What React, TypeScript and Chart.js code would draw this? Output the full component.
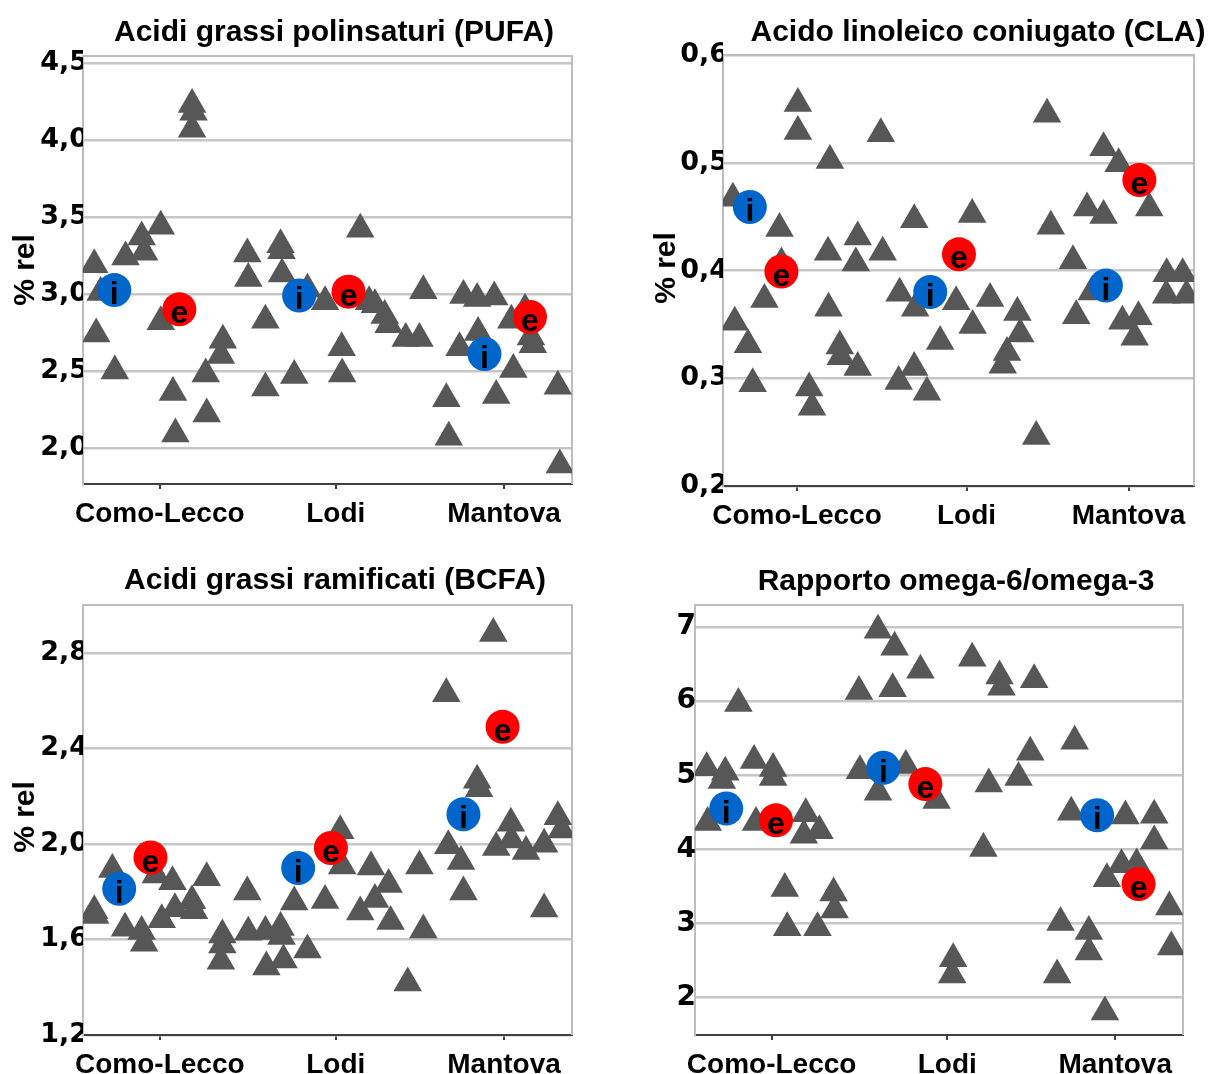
import React, { useEffect, useRef } from "react";
import { Chart, registerables } from "chart.js";

Chart.register(...registerables);

// ---------- data ----------
const CATEGORIES = ["Como-Lecco", "Lodi", "Mantova"];
const CATEGORY_POS = [15.7, 51.7, 86.1];

// PUFA
const PUFA_TRI: [number, number][] = [
  [2.3, 3.19], [2.7, 2.74], [3.6, 3.01], [6.5, 2.5], [8.7, 3.24], [12.0, 3.37], [12.5, 3.27],
  [15.9, 3.44], [15.9, 2.82], [18.4, 2.36], [18.9, 2.09], [22.3, 4.23], [22.6, 4.18], [22.3, 4.07],
  [25.1, 2.48], [25.3, 2.22], [28.6, 2.7], [28.2, 2.6], [33.6, 3.26], [33.8, 3.1], [37.3, 2.83],
  [37.3, 2.39], [40.4, 3.32], [40.6, 3.28], [40.7, 3.13], [43.2, 2.47], [45.9, 3.03], [49.5, 2.95],
  [52.9, 2.65], [53.0, 2.48], [56.7, 3.42], [58.5, 2.95], [59.7, 2.93], [61.7, 2.86], [62.5, 2.8],
  [66.0, 2.71], [68.8, 2.71], [69.6, 3.02], [74.3, 2.32], [74.8, 2.07], [77.0, 2.65], [77.8, 2.99],
  [80.6, 2.97], [80.8, 2.75], [84.1, 2.98], [84.5, 2.34], [87.6, 2.83], [88.0, 2.51], [90.4, 2.9],
  [91.6, 2.72], [92.0, 2.67], [97.1, 2.4], [97.5, 1.89],
];
const PUFA_I: [number, number][] = [[6.4, 3.025], [44.2, 2.99], [82.1, 2.61]];
const PUFA_E: [number, number][] = [[19.7, 2.9], [54.3, 3.015], [91.4, 2.85]];
const PUFA_TICKS = [2.0, 2.5, 3.0, 3.5, 4.0, 4.5];

// CLA
const CLA_TRI: [number, number][] = [
  [2.1, 0.467], [2.5, 0.352], [5.3, 0.331], [6.3, 0.295], [8.8, 0.373], [12.0, 0.439], [12.4, 0.407],
  [15.9, 0.555], [15.9, 0.529], [18.3, 0.291], [18.9, 0.273], [22.7, 0.502], [22.3, 0.417], [22.4, 0.365],
  [24.8, 0.33], [25.0, 0.32], [28.6, 0.431], [28.2, 0.407], [28.6, 0.31], [33.5, 0.527], [33.9, 0.417],
  [37.5, 0.379], [37.3, 0.297], [40.6, 0.447], [40.6, 0.31], [40.8, 0.365], [43.3, 0.287], [46.1, 0.334],
  [49.5, 0.371], [52.9, 0.452], [53.0, 0.349], [56.7, 0.374], [59.4, 0.312], [60.3, 0.324], [62.5, 0.361],
  [63.1, 0.341], [66.5, 0.246], [68.8, 0.545], [69.6, 0.441], [74.3, 0.409], [75.0, 0.358], [77.3, 0.458],
  [78.3, 0.38], [80.8, 0.514], [80.8, 0.451], [84.0, 0.499], [84.8, 0.353], [87.4, 0.338], [88.2, 0.357],
  [90.5, 0.458], [94.2, 0.397], [94.1, 0.377], [97.6, 0.397], [98.4, 0.377],
];
const CLA_I: [number, number][] = [[5.7, 0.459], [44.0, 0.38], [81.3, 0.386]];
const CLA_E: [number, number][] = [[12.4, 0.399], [50.1, 0.415], [88.4, 0.484]];
const CLA_TICKS = [0.2, 0.3, 0.4, 0.5, 0.6];

// BCFA
const BCFA_TRI: [number, number][] = [
  [2.3, 1.72], [2.5, 1.7], [6.0, 1.893], [8.6, 1.647], [12.0, 1.633], [12.5, 1.584], [14.9, 1.87],
  [16.1, 1.682], [18.3, 1.841], [18.8, 1.729], [22.3, 1.762], [22.7, 1.72], [25.3, 1.858], [28.5, 1.619],
  [28.5, 1.577], [28.2, 1.509], [33.6, 1.799], [33.8, 1.63], [37.3, 1.633], [37.5, 1.485], [40.4, 1.65],
  [40.6, 1.612], [41.0, 1.514], [43.2, 1.757], [45.9, 1.556], [49.5, 1.763], [52.6, 2.055], [53.0, 1.907],
  [56.7, 1.715], [58.9, 1.903], [59.7, 1.767], [62.5, 1.83], [62.9, 1.675], [66.4, 1.418], [68.8, 1.907],
  [69.6, 1.64], [74.3, 2.629], [74.7, 1.992], [77.3, 1.926], [77.8, 1.799], [80.6, 2.266], [81.0, 2.231],
  [83.9, 2.881], [84.5, 1.985], [87.5, 2.086], [87.6, 2.016], [90.6, 1.968], [94.3, 1.999], [94.3, 1.727],
  [97.1, 2.114], [97.9, 2.058],
];
const BCFA_I: [number, number][] = [[7.4, 1.812], [44.0, 1.899], [77.8, 2.124]];
const BCFA_E: [number, number][] = [[13.8, 1.943], [50.7, 1.983], [85.8, 2.49]];
const BCFA_TICKS = [1.2, 1.6, 2.0, 2.4, 2.8];

// omega-6 / omega-3
const OMEGA_TRI: [number, number][] = [
  [2.4, 5.1], [2.6, 4.36], [6.2, 5.04], [5.5, 4.93], [8.9, 5.97], [12.1, 5.2], [12.5, 4.36],
  [16.0, 5.09], [16.0, 4.97], [18.4, 3.47], [18.9, 2.94], [22.7, 4.48], [22.3, 4.19], [25.5, 4.25],
  [25.1, 2.94], [28.4, 3.41], [28.6, 3.18], [33.6, 6.13], [33.8, 5.06], [37.5, 6.96], [37.5, 4.77],
  [40.9, 6.73], [40.5, 6.17], [43.2, 5.13], [46.2, 6.42], [49.5, 4.66], [52.9, 2.52], [52.7, 2.3],
  [56.8, 6.58], [60.2, 4.88], [59.1, 4.01], [62.4, 6.34], [62.8, 6.19], [66.3, 4.97], [68.7, 5.31],
  [69.5, 6.29], [74.2, 2.3], [74.9, 3.01], [77.8, 5.46], [77.1, 4.5], [80.7, 2.89], [80.7, 2.61],
  [84.0, 1.8], [84.4, 3.6], [87.4, 3.79], [88.2, 4.45], [90.5, 3.8], [94.1, 4.46], [94.1, 4.11],
  [97.2, 3.22], [97.6, 2.68],
];
const OMEGA_I: [number, number][] = [[6.4, 4.55], [38.6, 5.1], [82.4, 4.46]];
const OMEGA_E: [number, number][] = [[16.6, 4.39], [47.2, 4.88], [90.9, 3.53]];
const OMEGA_TICKS = [2, 3, 4, 5, 6, 7];

// ---------- styling ----------
const TRI_COLOR = "#575757";
const I_COLOR = "#0066CC";
const E_COLOR = "#FF0000";
const GRID_COLOR = "#c6c6c6";
const FRAME_COLOR = "#bdbdbd";
const AXIS_COLOR = "#404040";
const SANS = "'Liberation Sans', Arial, sans-serif";
const TICK_FONT = "'DejaVu Sans', sans-serif";

type Panel = {
  title: string;
  yTitle: string | null;
  tri: [number, number][];
  iPts: [number, number][];
  ePts: [number, number][];
  yMin: number;
  yMax: number;
  yTicks: number[];
  decimals: number;
  box: { left: number; top: number; width: number; height: number };
  area: { left: number; top: number; right: number; bottom: number };
  titleX: number;
  titleY: number;
  yTitleX: number;
  yTitleY: number;
  tickPad: number;
  tickSize: number;
};

const PANELS: Panel[] = [
  {
    title: "Acidi grassi polinsaturi (PUFA)", yTitle: "% rel",
    tri: PUFA_TRI, iPts: PUFA_I, ePts: PUFA_E,
    yMin: 1.766, yMax: 4.545, yTicks: PUFA_TICKS, decimals: 1,
    box: { left: 0, top: 0, width: 605, height: 545 },
    area: { left: 83, top: 56, right: 572, bottom: 484 },
    titleX: 334, titleY: 41, yTitleX: 34, yTitleY: 270, tickPad: -5, tickSize: 27,
  },
  {
    title: "Acido linoleico coniugato (CLA)", yTitle: "% rel",
    tri: CLA_TRI, iPts: CLA_I, ePts: CLA_E,
    yMin: 0.2, yMax: 0.6, yTicks: CLA_TICKS, decimals: 1,
    box: { left: 605, top: 0, width: 606, height: 545 },
    area: { left: 118, top: 55, right: 604, bottom: 486 },
    titleX: 373, titleY: 41, yTitleX: 70, yTitleY: 268, tickPad: -5, tickSize: 27,
  },
  {
    title: "Acidi grassi ramificati (BCFA)", yTitle: "% rel",
    tri: BCFA_TRI, iPts: BCFA_I, ePts: BCFA_E,
    yMin: 1.2, yMax: 3.0, yTicks: BCFA_TICKS, decimals: 1,
    box: { left: 0, top: 545, width: 605, height: 529 },
    area: { left: 83, top: 60, right: 572, bottom: 490 },
    titleX: 335, titleY: 44, yTitleX: 34, yTitleY: 272, tickPad: -5, tickSize: 27,
  },
  {
    title: "Rapporto omega-6/omega-3", yTitle: null,
    tri: OMEGA_TRI, iPts: OMEGA_I, ePts: OMEGA_E,
    yMin: 1.49, yMax: 7.3, yTicks: OMEGA_TICKS, decimals: 0,
    box: { left: 605, top: 545, width: 606, height: 529 },
    area: { left: 90, top: 60, right: 578, bottom: 490 },
    titleX: 351, titleY: 45, yTitleX: 0, yTitleY: 0, tickPad: -1, tickSize: 28,
  },
];

function toXY(arr: [number, number][]) {
  return arr.map(([x, y]) => ({ x, y }));
}

function ChartPanel({ p }: { p: Panel }) {
  const ref = useRef<HTMLCanvasElement | null>(null);
  useEffect(() => {
    if (!ref.current) return;
    const W = p.box.width;
    const H = p.box.height;

    const decorPlugin = {
      id: "decor",
      beforeDatasetsDraw(chart: any) {
        const { ctx, chartArea } = chart;
        ctx.save();
        ctx.strokeStyle = FRAME_COLOR;
        ctx.lineWidth = 2;
        ctx.beginPath();
        ctx.moveTo(chartArea.left, chartArea.top);
        ctx.lineTo(chartArea.right, chartArea.top);
        ctx.lineTo(chartArea.right, chartArea.bottom);
        ctx.stroke();
        ctx.restore();
      },
      afterDatasetsDraw(chart: any) {
        const { ctx } = chart;
        ctx.save();
        ctx.fillStyle = "#000";
        ctx.font = `bold 32px ${SANS}`;
        ctx.textAlign = "center";
        ctx.textBaseline = "alphabetic";
        [0, 1].forEach((di) => {
          const ds = chart.data.datasets[di];
          const meta = chart.getDatasetMeta(di);
          meta.data.forEach((pt: any) => {
            ctx.fillText(ds.label, pt.x, pt.y + 14);
          });
        });
        ctx.restore();
      },
      afterDraw(chart: any) {
        const { ctx } = chart;
        ctx.save();
        ctx.fillStyle = "#000";
        ctx.font = `bold 30px ${SANS}`;
        ctx.textAlign = "center";
        ctx.textBaseline = "alphabetic";
        ctx.fillText(p.title, p.titleX, p.titleY);
        if (p.yTitle) {
          ctx.translate(p.yTitleX, p.yTitleY);
          ctx.rotate(-Math.PI / 2);
          ctx.fillText(p.yTitle, 0, 0);
        }
        ctx.restore();
      },
    };

    const chart = new Chart(ref.current, {
      type: "scatter",
      data: {
        datasets: [
          {
            label: "i", data: toXY(p.iPts), pointStyle: "circle", pointRadius: 17, pointHoverRadius: 17,
            backgroundColor: I_COLOR, borderWidth: 0, order: 0,
          },
          {
            label: "e", data: toXY(p.ePts), pointStyle: "circle", pointRadius: 17, pointHoverRadius: 17,
            backgroundColor: E_COLOR, borderWidth: 0, order: 0,
          },
          {
            label: "aziende", data: toXY(p.tri), pointStyle: "triangle", pointRadius: 16.5, pointHoverRadius: 16.5,
            backgroundColor: TRI_COLOR, borderWidth: 0, order: 1,
          },
        ],
      },
      options: {
        responsive: false,
        animation: false,
        devicePixelRatio: 1,
        events: [],
        layout: { padding: { left: 0, top: p.area.top, right: W - p.area.right, bottom: 0 } },
        plugins: { legend: { display: false }, title: { display: false }, tooltip: { enabled: false } },
        scales: {
          x: {
            type: "linear", min: 0, max: 100,
            afterBuildTicks: (s: any) => { s.ticks = CATEGORY_POS.map((v) => ({ value: v })); },
            afterFit: (s: any) => { s.height = H - p.area.bottom; },
            grid: { drawOnChartArea: false, drawTicks: true, tickLength: 5, color: AXIS_COLOR, lineWidth: 2 },
            border: { color: AXIS_COLOR, width: 2 },
            ticks: {
              callback: (_v: any, i: number) => CATEGORIES[i],
              font: { family: SANS, size: 28, weight: "bold" }, color: "#000",
              padding: 8, maxRotation: 0, minRotation: 0, autoSkip: false,
            },
          },
          y: {
            type: "linear", min: p.yMin, max: p.yMax,
            afterBuildTicks: (s: any) => { s.ticks = p.yTicks.map((v) => ({ value: v })); },
            afterFit: (s: any) => { s.width = p.area.left; },
            grid: { color: GRID_COLOR, lineWidth: 2.5, drawTicks: false },
            border: { color: FRAME_COLOR, width: 2 },
            ticks: {
              callback: (v: any) => Number(v).toFixed(p.decimals).replace(".", ","),
              font: { family: TICK_FONT, size: p.tickSize, weight: "bold" }, color: "#000",
              padding: p.tickPad,
            },
          },
        },
      } as any,
      plugins: [decorPlugin],
    });
    return () => chart.destroy();
  }, [p]);

  return (
    <canvas
      ref={ref}
      width={p.box.width}
      height={p.box.height}
      style={{
        position: "absolute", left: p.box.left, top: p.box.top,
        width: p.box.width, height: p.box.height, display: "block",
      }}
    />
  );
}

export default function App() {
  useEffect(() => {
    document.body.style.margin = "0";
  }, []);
  return (
    <div style={{ position: "relative", width: 1211, height: 1074, overflow: "hidden", background: "#fff" }}>
      {PANELS.map((p, i) => (
        <ChartPanel key={i} p={p} />
      ))}
    </div>
  );
}
